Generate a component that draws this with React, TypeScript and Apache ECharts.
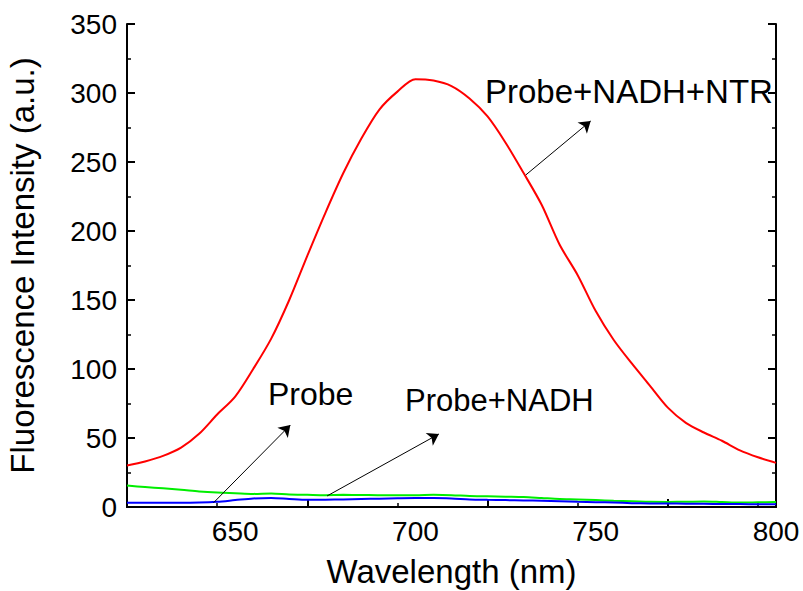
import React, { useEffect, useRef } from "react";
import * as echarts from "echarts";

const wavelengths = [620, 625, 630, 635, 640, 645, 650, 655, 660, 665, 670, 675, 680, 685, 690, 695, 700, 705, 710, 715, 720, 725, 730, 735, 740, 745, 750, 755, 760, 765, 770, 775, 780, 785, 790, 795, 800];

const ntrValues = [30, 33, 37, 43, 53, 67, 80, 100, 122, 150, 182, 213, 242, 267, 288, 301, 310, 309, 305, 296, 283, 264, 242, 219, 190, 168, 142, 121, 104, 88, 72, 61, 54, 48, 41, 36, 32];
const nadhValues = [15.5, 14.5, 13.5, 12.5, 11.3, 10.5, 10, 9.5, 9.8, 9, 8.8, 8.6, 8.8, 8.7, 8.5, 8.6, 8.5, 8.8, 8.6, 8, 7.8, 7.5, 7.2, 6.5, 5.8, 5.5, 5, 4.5, 4.2, 3.8, 3.7, 3.8, 4, 3.6, 3.2, 3.4, 3.6];
const probeValues = [3, 3, 3, 3, 3.2, 3.8, 5, 6.2, 6.5, 5.8, 5.2, 5.3, 5.5, 5.8, 6, 6.3, 6.5, 6.5, 6.2, 5.5, 5.2, 5, 4.8, 4.5, 4.2, 3.8, 3.5, 3.2, 2.8, 2.6, 2.5, 2.4, 2.3, 2.2, 2.1, 2, 2];

// arrow endpoints in data coordinates [wavelength, intensity]
const probeArrow = [[644, 3.1], [665.3, 59.4]];
const nadhArrow = [[675.5, 8], [706.5, 52.9]];
const ntrArrow = [[730.6, 240.6], [748.6, 279.7]];

const FONT = "'Liberation Sans', Arial, sans-serif";

function pairs(ys: number[]) {
  return wavelengths.map((w, i) => [w, ys[i]]);
}

function arrow(pts: number[][]) {
  return {
    silent: true,
    symbol: ["none", "arrow"],
    symbolSize: 11,
    label: { show: false },
    lineStyle: { color: "#000", width: 1, type: "solid" },
    emphasis: { disabled: true },
    data: [[{ coord: pts[0] }, { coord: pts[1] }]],
  };
}

export default function App() {
  const ref = useRef<HTMLDivElement>(null);
  useEffect(() => {
    if (!ref.current) return;
    const chart = echarts.init(ref.current, undefined, { renderer: "svg" });
    const axisCommon = {
      axisLine: { show: true, lineStyle: { color: "#000", width: 2 } },
      splitLine: { show: false },
    };
    chart.setOption({
      animation: false,
      backgroundColor: "#fff",
      grid: { left: 127, right: 27, top: 24, bottom: 84, containLabel: false, outerBoundsMode: "none" },
      xAxis: [
        {
          type: "value",
          min: 620,
          max: 800,
          interval: 50,
          ...axisCommon,
          axisTick: { show: true, inside: true, length: 8, lineStyle: { color: "#000", width: 2 } },
          minorTick: { show: true, splitNumber: 2, length: 4, lineStyle: { color: "#000", width: 1.5 } },
          axisLabel: {
            fontSize: 28,
            fontFamily: FONT,
            color: "#000",
            margin: 10,
            customValues: [650, 700, 750, 800],
          },
          name: "Wavelength (nm)",
          nameLocation: "middle",
          nameGap: 48,
          nameTextStyle: { fontSize: 33, lineHeight: 33, fontFamily: FONT, color: "#000" },
        },
        {
          type: "value",
          position: "top",
          min: 620,
          max: 800,
          interval: 50,
          ...axisCommon,
          axisTick: { show: false },
          axisLabel: { show: false },
        },
      ],
      yAxis: [
        {
          type: "value",
          min: 0,
          max: 350,
          interval: 50,
          ...axisCommon,
          axisTick: { show: true, inside: true, length: 8, lineStyle: { color: "#000", width: 2 } },
          minorTick: { show: true, splitNumber: 2, length: 4, lineStyle: { color: "#000", width: 1.5 } },
          axisLabel: { fontSize: 28, fontFamily: FONT, color: "#000", margin: 10 },
          name: "Fluorescence Intensity (a.u.)",
          nameLocation: "middle",
          nameGap: 88,
          nameTextStyle: { fontSize: 33, fontFamily: FONT, color: "#000" },
        },
        {
          type: "value",
          position: "right",
          min: 0,
          max: 350,
          interval: 50,
          ...axisCommon,
          axisTick: { show: true, inside: true, length: 8, lineStyle: { color: "#000", width: 2 } },
          minorTick: { show: true, splitNumber: 2, length: 4, lineStyle: { color: "#000", width: 1.5 } },
          axisLabel: { show: false },
        },
      ],
      series: [
        {
          name: "Probe+NADH+NTR",
          type: "line",
          data: pairs(ntrValues),
          smooth: 0.3,
          showSymbol: false,
          lineStyle: { color: "#ff0000", width: 2 },
          markLine: arrow(ntrArrow),
        },
        {
          name: "Probe+NADH",
          type: "line",
          data: pairs(nadhValues),
          smooth: 0.3,
          showSymbol: false,
          lineStyle: { color: "#00ee00", width: 2 },
          markLine: arrow(nadhArrow),
        },
        {
          name: "Probe",
          type: "line",
          data: pairs(probeValues),
          smooth: 0.3,
          showSymbol: false,
          lineStyle: { color: "#0000ff", width: 2 },
          markLine: arrow(probeArrow),
        },
      ],
      graphic: [
        {
          type: "text",
          x: 485,
          y: 91,
          style: { text: "Probe+NADH+NTR", font: `33px ${FONT}`, fill: "#000", align: "left", verticalAlign: "middle" },
        },
        {
          type: "text",
          x: 268,
          y: 394,
          style: { text: "Probe", font: `32px ${FONT}`, fill: "#000", align: "left", verticalAlign: "middle" },
        },
        {
          type: "text",
          x: 405,
          y: 400,
          style: { text: "Probe+NADH", font: `31px ${FONT}`, fill: "#000", align: "left", verticalAlign: "middle" },
        },
      ],
    });
    return () => chart.dispose();
  }, []);
  return <div ref={ref} style={{ width: 803, height: 591, position: "absolute", left: 0, top: 0 }} />;
}
